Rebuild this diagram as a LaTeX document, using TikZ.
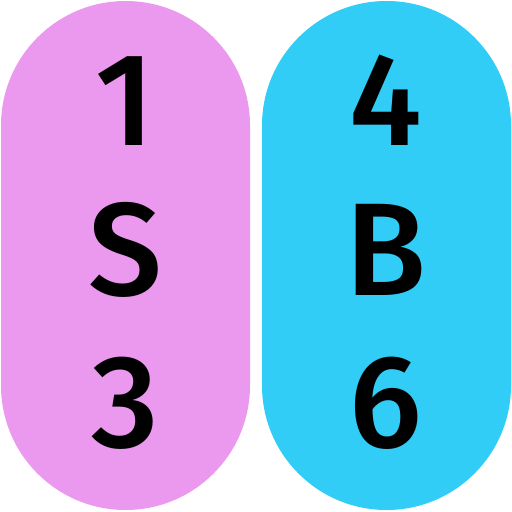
\documentclass[tikz,border=0pt]{standalone}
\usepackage{fontspec}
\setmainfont{Fira Sans}[UprightFont=* Medium]
\definecolor{pinkc}{HTML}{EB99EE}
\definecolor{bluec}{HTML}{31CDF7}
\begin{document}
\begin{tikzpicture}[x=1pt,y=-1pt,
  pill/.style={rounded corners=124.5pt},
  lbl/.style={font=\fontsize{132}{132}\selectfont, inner sep=0pt, anchor=base}]
\useasboundingbox (0,0) rectangle (512,512);
\fill[pinkc,pill] (1,1) rectangle (250,510);
\fill[bluec,pill] (262,1) rectangle (511,510);
\node[lbl] (a1) at (125,145) {1};
\node[lbl] (a2) at (125,295) {S};
\node[lbl] (a3) at (125,447) {3};
\node[lbl] (b1) at (386,145) {4};
\node[lbl] (b2) at (386,295) {B};
\node[lbl] (b3) at (386,447) {6};
\end{tikzpicture}
\end{document}
